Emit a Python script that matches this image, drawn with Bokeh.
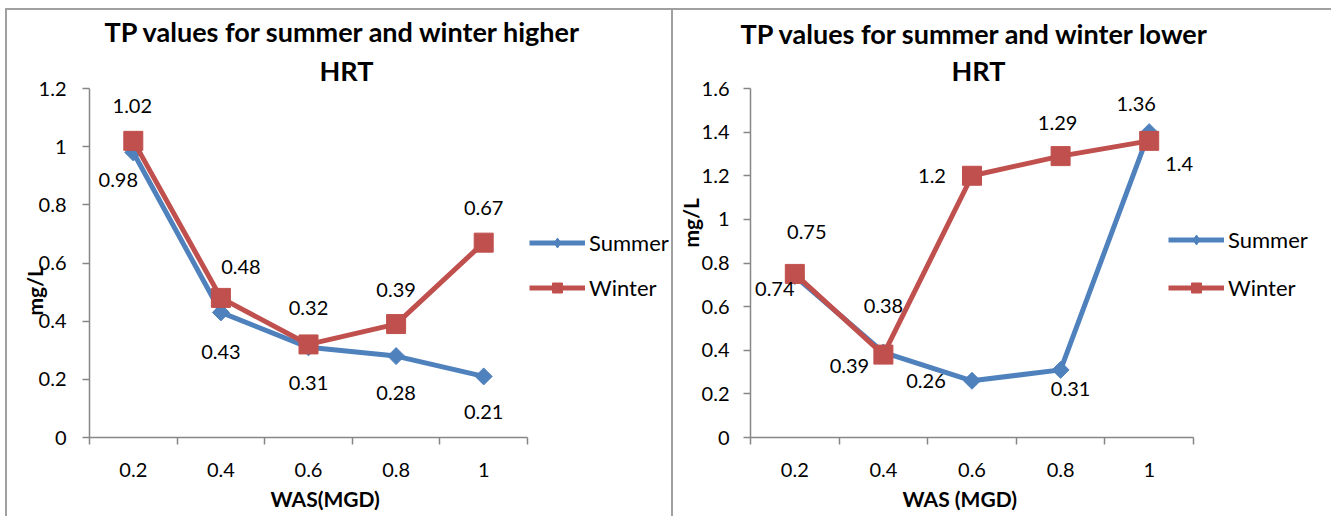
import numpy as np
from bokeh.plotting import figure
from bokeh.models import Range1d, FixedTicker, Title, Legend, LegendItem
from bokeh.layouts import row
from bokeh.embed import file_html
from bokeh.resources import INLINE
from bokeh.core.properties import value

# ---------------- data ----------------
was_labels = ["0.2", "0.4", "0.6", "0.8", "1"]

higher_summer = [0.98, 0.43, 0.31, 0.28, 0.21]
higher_winter = [1.02, 0.48, 0.32, 0.39, 0.67]
lower_summer = [0.74, 0.39, 0.26, 0.31, 1.4]
lower_winter = [0.75, 0.38, 1.2, 1.29, 1.36]

higher_yticks = [0, 0.2, 0.4, 0.6, 0.8, 1.0, 1.2]
higher_ytick_labels = ["0", "0.2", "0.4", "0.6", "0.8", "1", "1.2"]
lower_yticks = [0, 0.2, 0.4, 0.6, 0.8, 1.0, 1.2, 1.4, 1.6]
lower_ytick_labels = ["0", "0.2", "0.4", "0.6", "0.8", "1", "1.2", "1.4", "1.6"]

# ---------------- style ----------------
BLUE = "#4F81BD"
RED = "#C0504D"
AXIS = "#868686"
FRAME = "#A0A0A0"
FONT = "Lato"

# data-label placement (pixel offsets, positive y = down)
higher_summer_off = [(-15, 28), (0, 40), (0, 36), (0, 37), (0, 36)]
higher_winter_off = [(-1, -35), (20, -31), (0, -36), (0, -34), (0, -35)]
lower_summer_off = [(-20, 13), (-34, 14), (-46, 0), (10, 19), (30, 32)]
lower_winter_off = [(12, -42), (0, -49), (-40, 0), (-3, -33), (-13, -37)]


def panel(title_line1, title_line2, title_offsets, xlabel, xlabel_offset, ymax, yticks,
          ytick_labels, summer, winter, s_off, w_off, width, height, borders, axis_px,
          legend_loc, legend_spacing, ylabel_offset, ylabel_standoff, ytick_standoff,
          xlabel_standoff, title_standoff):
    n = len(was_labels)
    # the frame is wider than the category axis so the legend can sit inside it
    frame_w = width - borders[0] - borders[1]
    x_end = n * frame_w / axis_px
    p = figure(width=width, height=height, output_backend="svg", toolbar_location=None,
               x_range=Range1d(0, x_end), y_range=Range1d(0, ymax),
               min_border_left=borders[0], min_border_right=borders[1],
               min_border_top=borders[2], min_border_bottom=borders[3])
    p.outline_line_color = None
    p.grid.visible = False
    p.background_fill_color = "white"
    p.border_fill_color = "white"

    xs = np.arange(n) + 0.5
    bounds = list(np.arange(n + 1).astype(float))

    # x axis (Excel-like: tick marks between categories)
    xa = p.xaxis[0]
    xa.bounds = (0, n)
    xa.ticker = FixedTicker(ticks=list(xs), minor_ticks=bounds)
    xa.major_label_overrides = {float(x): lab for x, lab in zip(xs, was_labels)}
    xa.major_tick_line_color = None
    xa.major_tick_out = 0
    xa.major_tick_in = 0
    xa.minor_tick_line_color = AXIS
    xa.minor_tick_line_width = 1.5
    xa.minor_tick_out = 7
    xa.minor_tick_in = 0
    xa.axis_line_color = AXIS
    xa.axis_line_width = 1.5
    xa.major_label_text_font = FONT
    xa.major_label_text_font_size = "20px"
    xa.major_label_text_color = "black"
    xa.major_label_standoff = 18

    # x axis title (placed under the category axis)
    p.add_layout(Title(text=xlabel, align="left", offset=xlabel_offset, vertical_align="top",
                       standoff=xlabel_standoff, text_font=FONT, text_font_style="bold",
                       text_font_size="21px", text_color="black"), "below")

    ya = p.yaxis[0]
    ya.ticker = FixedTicker(ticks=yticks)
    ya.major_label_overrides = {float(t): lab for t, lab in zip(yticks, ytick_labels)}
    ya.major_tick_line_color = AXIS
    ya.major_tick_line_width = 1.5
    ya.major_tick_out = 7
    ya.major_tick_in = 0
    ya.minor_tick_line_color = None
    ya.axis_line_color = AXIS
    ya.axis_line_width = 1.5
    ya.major_label_text_font = FONT
    ya.major_label_text_font_size = "20px"
    ya.major_label_text_color = "black"
    ya.major_label_standoff = ytick_standoff

    # y axis title, placed like Excel's (off-centre)
    p.add_layout(Title(text="mg/L", align="left", offset=ylabel_offset, vertical_align="bottom",
                       standoff=ylabel_standoff, text_font=FONT, text_font_style="bold",
                       text_font_size="21px", text_color="black"), "left")

    # chart title (two lines)
    t2 = Title(text=title_line2, align="left", offset=title_offsets[1], text_font=FONT,
               text_font_style="bold", text_font_size="27px", text_color="black", standoff=4)
    t1 = Title(text=title_line1, align="left", offset=title_offsets[0], text_font=FONT,
               text_font_style="bold", text_font_size="27px", text_color="black",
               standoff=title_standoff)
    p.add_layout(t2, "above")
    p.add_layout(t1, "above")

    # series
    ls = p.line(xs, summer, line_width=5, line_color=BLUE)
    sd = p.scatter(xs, summer, marker="diamond", size=14, fill_color=BLUE, line_color=BLUE)
    p.scatter(xs, summer, marker="square", angle=np.pi / 4, size=12,
              fill_color=BLUE, line_color=BLUE)
    lw = p.line(xs, winter, line_width=5, line_color=RED)
    sw = p.scatter(xs, winter, marker="square", size=19, fill_color=RED, line_color=RED)

    # data labels
    for vals, offs in ((summer, s_off), (winter, w_off)):
        p.text(xs, vals, text=[f"{v:g}" for v in vals],
               x_offset=[o[0] for o in offs], y_offset=[o[1] for o in offs],
               text_align="center", text_baseline="middle",
               text_font=value(FONT), text_font_size="20px", text_color="black")

    legend = Legend(items=[LegendItem(label="Summer", renderers=[ls, sd]),
                           LegendItem(label="Winter", renderers=[lw, sw])],
                    location=legend_loc, orientation="vertical",
                    glyph_width=56, glyph_height=25, label_height=25, label_standoff=4,
                    spacing=legend_spacing, padding=0, margin=0,
                    border_line_color=None, background_fill_alpha=0,
                    label_text_font=FONT, label_text_font_size="22px", label_text_color="black")
    p.add_layout(legend)
    return p


p1 = panel("TP values for summer and winter higher", "HRT", (15, 230), "WAS(MGD)", 181,
           1.2, higher_yticks, higher_ytick_labels, higher_summer, higher_winter,
           higher_summer_off, higher_winter_off,
           width=666, height=508, borders=(82, 4, 78, 81), axis_px=438,
           legend_loc=(440, 136), legend_spacing=18, ylabel_offset=122, ylabel_standoff=-22,
           ytick_standoff=16, xlabel_standoff=12, title_standoff=4)
p1.styles = {"border-left": f"2px solid {FRAME}", "border-top": f"2px solid {FRAME}"}
p1.margin = (8, 0, 0, 5)

p2 = panel("TP values for summer and winter lower", "HRT", (-10, 201), "WAS (MGD)", 152,
           1.6, lower_yticks, lower_ytick_labels, lower_summer, lower_winter,
           lower_summer_off, lower_winter_off,
           width=660, height=508, borders=(77, 4, 76, 80), axis_px=443,
           legend_loc=(418, 136), legend_spacing=21, ylabel_offset=190, ylabel_standoff=-8,
           ytick_standoff=14, xlabel_standoff=12, title_standoff=0)
p2.styles = {"border-left": f"2px solid {FRAME}", "border-top": f"2px solid {FRAME}"}
p2.margin = (8, 0, 0, 0)

layout = row(p1, p2)
open("out.html", "w").write(file_html(layout, INLINE))
